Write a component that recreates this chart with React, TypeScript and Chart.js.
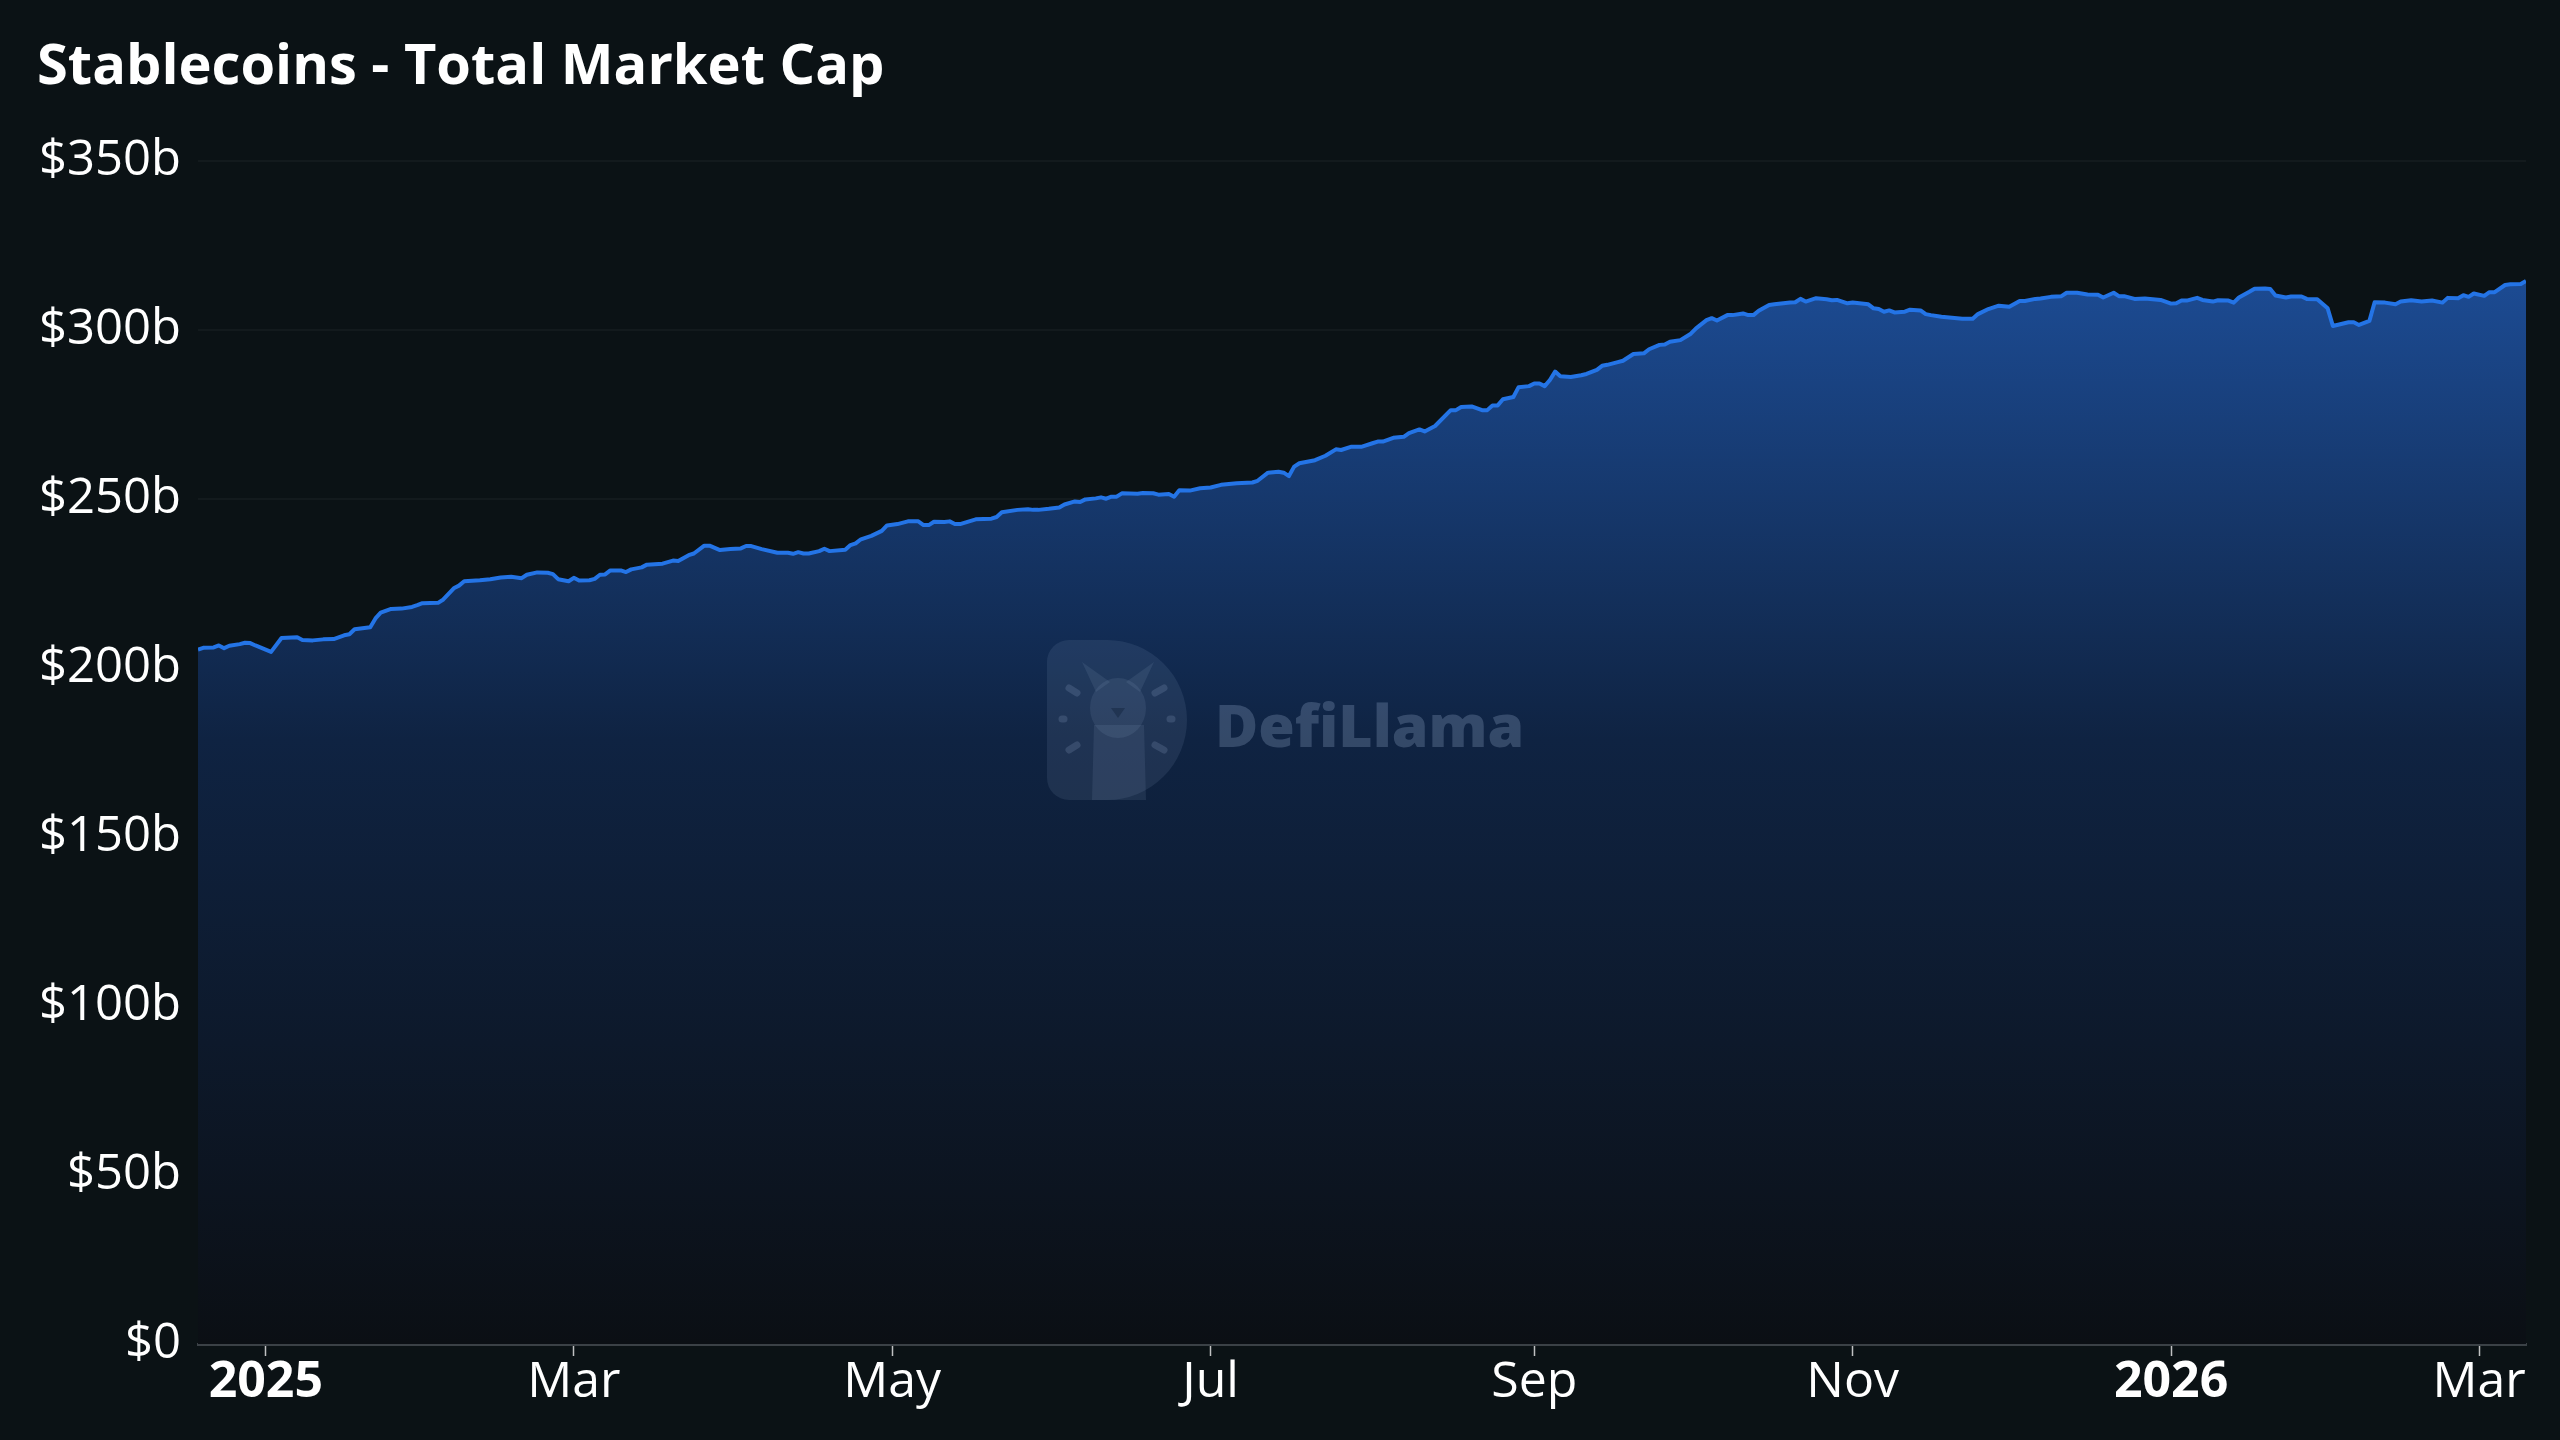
import React, { useEffect, useRef } from 'react';
import { Chart, registerables } from 'chart.js';

Chart.register(...registerables);

const TITLE = 'Stablecoins - Total Market Cap';

const dates: string[] = [
  '2024-12-19','2024-12-20','2024-12-22','2024-12-23','2024-12-24','2024-12-25','2024-12-27','2024-12-28','2024-12-29','2024-12-30',
  '2025-01-02','2025-01-04','2025-01-07','2025-01-08','2025-01-10','2025-01-12','2025-01-14','2025-01-16','2025-01-17','2025-01-18',
  '2025-01-21','2025-01-22','2025-01-23','2025-01-25','2025-01-27','2025-01-29','2025-01-30','2025-01-31',
  '2025-02-03','2025-02-04','2025-02-06','2025-02-07','2025-02-08','2025-02-11','2025-02-13','2025-02-15','2025-02-17','2025-02-19',
  '2025-02-20','2025-02-22','2025-02-24','2025-02-25','2025-02-26','2025-02-28',
  '2025-03-01','2025-03-02','2025-03-04','2025-03-05','2025-03-06','2025-03-07','2025-03-08','2025-03-10','2025-03-11','2025-03-12',
  '2025-03-14','2025-03-15','2025-03-18','2025-03-20','2025-03-21','2025-03-23','2025-03-24','2025-03-26','2025-03-27','2025-03-29','2025-03-31',
  '2025-04-02','2025-04-03','2025-04-04','2025-04-06','2025-04-09','2025-04-11','2025-04-12','2025-04-13','2025-04-14','2025-04-15',
  '2025-04-17','2025-04-18','2025-04-19','2025-04-22','2025-04-23','2025-04-24','2025-04-25','2025-04-27','2025-04-29','2025-04-30',
  '2025-05-02','2025-05-04','2025-05-06','2025-05-07','2025-05-08','2025-05-09','2025-05-11','2025-05-12','2025-05-13','2025-05-14',
  '2025-05-17','2025-05-20','2025-05-21','2025-05-22','2025-05-25','2025-05-27','2025-05-28','2025-05-29','2025-05-31',
  '2025-06-02','2025-06-03','2025-06-05','2025-06-06','2025-06-07','2025-06-09','2025-06-10','2025-06-11','2025-06-12','2025-06-13',
  '2025-06-14','2025-06-17','2025-06-18','2025-06-20','2025-06-21','2025-06-23','2025-06-24','2025-06-25','2025-06-27','2025-06-29',
  '2025-07-01','2025-07-03','2025-07-06','2025-07-09','2025-07-10','2025-07-12','2025-07-14','2025-07-15','2025-07-16','2025-07-17',
  '2025-07-18','2025-07-21','2025-07-23','2025-07-25','2025-07-26','2025-07-28','2025-07-30',
  '2025-08-01','2025-08-02','2025-08-03','2025-08-05','2025-08-07','2025-08-08','2025-08-10','2025-08-11','2025-08-13','2025-08-16',
  '2025-08-17','2025-08-18','2025-08-20','2025-08-22','2025-08-23','2025-08-24','2025-08-25','2025-08-26','2025-08-28','2025-08-29','2025-08-31',
  '2025-09-01','2025-09-02','2025-09-03','2025-09-04','2025-09-05','2025-09-06','2025-09-08','2025-09-10','2025-09-11','2025-09-13',
  '2025-09-14','2025-09-15','2025-09-17','2025-09-18','2025-09-20','2025-09-22','2025-09-23','2025-09-25','2025-09-26','2025-09-27','2025-09-29',
  '2025-10-01','2025-10-02','2025-10-04','2025-10-05','2025-10-06','2025-10-08','2025-10-09','2025-10-11','2025-10-12','2025-10-13',
  '2025-10-14','2025-10-16','2025-10-17','2025-10-20','2025-10-21','2025-10-22','2025-10-23','2025-10-25','2025-10-27','2025-10-28',
  '2025-10-29','2025-10-31',
  '2025-11-01','2025-11-04','2025-11-05','2025-11-06','2025-11-07','2025-11-08','2025-11-09','2025-11-11','2025-11-12','2025-11-14',
  '2025-11-15','2025-11-16','2025-11-18','2025-11-20','2025-11-22','2025-11-24','2025-11-25','2025-11-27','2025-11-29',
  '2025-12-01','2025-12-03','2025-12-04','2025-12-06','2025-12-07','2025-12-09','2025-12-11','2025-12-12','2025-12-14','2025-12-16',
  '2025-12-18','2025-12-19','2025-12-21','2025-12-22','2025-12-23','2025-12-25','2025-12-27','2025-12-28','2025-12-30',
  '2026-01-01','2026-01-02','2026-01-03','2026-01-04','2026-01-06','2026-01-07','2026-01-09','2026-01-10','2026-01-12','2026-01-13',
  '2026-01-14','2026-01-16','2026-01-17','2026-01-19','2026-01-20','2026-01-21','2026-01-23','2026-01-24','2026-01-26','2026-01-27',
  '2026-01-29','2026-01-31',
  '2026-02-01','2026-02-04','2026-02-05','2026-02-06','2026-02-08','2026-02-09','2026-02-11','2026-02-13','2026-02-14','2026-02-16',
  '2026-02-18','2026-02-20','2026-02-22','2026-02-23','2026-02-25','2026-02-26','2026-02-27','2026-02-28',
  '2026-03-02','2026-03-03','2026-03-04','2026-03-06','2026-03-07','2026-03-09','2026-03-10',
];

// Total stablecoin market cap, billions of USD
const values: number[] = [
  205.4,205.9,206.0,206.6,205.8,206.5,207.0,207.4,207.3,206.6,
  204.7,208.8,209.0,208.2,208.1,208.4,208.5,209.6,209.9,211.4,
  212.0,214.6,216.3,217.4,217.5,218.0,218.5,219.1,
  219.2,220.2,223.5,224.3,225.6,225.9,226.2,226.7,226.9,226.5,
  227.5,228.2,228.1,227.7,226.2,225.6,
  226.6,225.8,225.9,226.3,227.5,227.6,228.8,228.8,228.3,229.1,
  229.7,230.5,230.8,231.7,231.6,233.3,233.8,236.1,236.1,234.8,235.1,
  235.3,236.0,236.0,235.1,234.0,234.0,233.7,234.2,233.8,233.8,
  234.5,235.2,234.5,234.9,236.3,236.8,238.0,239.0,240.5,242.1,
  242.5,243.3,243.3,242.2,242.2,243.2,243.1,243.3,242.5,242.5,
  243.9,244.1,244.6,246.0,246.7,246.9,246.7,246.7,247.0,
  247.4,248.3,249.2,249.0,249.8,250.1,250.4,250.0,250.6,250.6,
  251.6,251.5,251.7,251.6,251.2,251.4,250.6,252.5,252.4,253.1,
  253.3,254.1,254.6,254.8,255.3,257.7,258.0,257.7,256.7,259.5,
  260.5,261.4,262.7,264.6,264.4,265.4,265.4,
  266.4,266.9,266.9,268.0,268.3,269.4,270.5,269.9,271.5,276.2,
  276.2,277.1,277.3,276.2,276.2,277.6,277.6,279.4,280.1,283.0,283.3,
  284.1,284.1,283.3,285.1,287.6,286.2,286.0,286.5,286.9,288.1,
  289.3,289.6,290.4,290.8,292.8,293.0,294.2,295.5,295.6,296.4,296.9,
  298.8,300.4,302.8,303.4,302.7,304.3,304.3,304.8,304.3,304.3,
  305.6,307.3,307.5,308.0,308.1,309.1,308.3,309.3,309.0,308.7,
  308.8,307.8,
  308.0,307.5,306.3,306.1,305.3,305.7,305.1,305.3,305.9,305.7,
  304.6,304.3,303.8,303.5,303.2,303.2,304.6,306.1,307.1,
  306.8,308.5,308.5,309.1,309.2,309.7,309.9,310.9,310.9,310.4,
  310.3,309.5,310.9,309.9,309.9,309.1,309.2,309.1,308.8,
  307.7,307.8,308.6,308.6,309.4,308.8,308.3,308.7,308.6,308.0,
  309.5,311.2,312.1,312.2,312.0,310.1,309.5,309.8,309.8,309.1,
  309.0,306.3,
  301.1,302.2,302.2,301.4,302.6,308.1,308.0,307.5,308.3,308.7,
  308.3,308.6,308.0,309.4,309.3,310.2,309.7,310.7,
  310.0,311.1,311.1,313.2,313.4,313.5,314.4,
];

const xTickDates: string[] = ['2025-01-01','2025-03-01','2025-05-01','2025-07-01','2025-09-01','2025-11-01','2026-01-01','2026-03-01'];
const xTickLabels: string[] = ['2025','Mar','May','Jul','Sep','Nov','2026','Mar'];

const yTickValues: number[] = [0, 50, 100, 150, 200, 250, 300, 350];
const yTickLabels: string[] = ['$0', '$50b', '$100b', '$150b', '$200b', '$250b', '$300b', '$350b'];

const FONT = '"Open Sans", "Noto Sans", "DejaVu Sans", sans-serif';
const BG = '#0b1215';
const LINE = '#2474e6';

const EPOCH = Date.parse('2025-01-01');
const dayOf = (d: string) => Math.round((Date.parse(d) - EPOCH) / 86400000);

const xTickDays = xTickDates.map(dayOf);
const points = dates.map((d, i) => ({ x: dayOf(d), y: values[i] }));

const watermarkPlugin = {
  id: 'defillamaWatermark',
  afterDatasetsDraw(chart: any) {
    const ctx: CanvasRenderingContext2D = chart.ctx;
    const cx = chart.width / 2;
    const cy = chart.height / 2;
    ctx.save();
    // "D" badge
    const l = cx - 233;
    const t = cy - 80;
    const arcX = cx - 173;
    const r = 22;
    ctx.beginPath();
    ctx.moveTo(l + r, t);
    ctx.lineTo(arcX, t);
    ctx.arc(arcX, cy, 80, -Math.PI / 2, Math.PI / 2);
    ctx.lineTo(l + r, cy + 80);
    ctx.arcTo(l, cy + 80, l, cy + 80 - r, r);
    ctx.lineTo(l, t + r);
    ctx.arcTo(l, t, l + r, t, r);
    ctx.closePath();
    ctx.fillStyle = 'rgba(150,172,205,0.12)';
    ctx.fill();

    // llama silhouette
    const lx = cx - 162;
    ctx.fillStyle = 'rgba(150,172,205,0.12)';
    ctx.beginPath();
    ctx.moveTo(lx - 26, cy + 80);
    ctx.lineTo(lx - 24, cy + 5);
    ctx.lineTo(lx + 26, cy + 5);
    ctx.lineTo(lx + 28, cy + 80);
    ctx.closePath();
    ctx.fill();
    ctx.beginPath();
    ctx.ellipse(lx, cy - 12, 28, 30, 0, 0, Math.PI * 2);
    ctx.fill();
    ctx.beginPath();
    ctx.moveTo(lx - 22, cy - 28);
    ctx.lineTo(lx - 36, cy - 58);
    ctx.lineTo(lx - 8, cy - 38);
    ctx.closePath();
    ctx.fill();
    ctx.beginPath();
    ctx.moveTo(lx + 22, cy - 28);
    ctx.lineTo(lx + 36, cy - 58);
    ctx.lineTo(lx + 8, cy - 38);
    ctx.closePath();
    ctx.fill();
    // face mark
    ctx.fillStyle = 'rgba(10,25,50,0.35)';
    ctx.beginPath();
    ctx.moveTo(lx - 7, cy - 12);
    ctx.lineTo(lx + 7, cy - 12);
    ctx.lineTo(lx, cy - 2);
    ctx.closePath();
    ctx.fill();

    // clock dashes
    ctx.strokeStyle = 'rgba(150,172,205,0.2)';
    ctx.lineWidth = 7;
    ctx.lineCap = 'round';
    const dash = (x1: number, y1: number, x2: number, y2: number) => {
      ctx.beginPath();
      ctx.moveTo(x1, y1);
      ctx.lineTo(x2, y2);
      ctx.stroke();
    };
    dash(cx - 211, cy - 32, cx - 203, cy - 27);
    dash(cx - 218, cy - 1, cx - 216, cy - 1);
    dash(cx - 211, cy + 30, cx - 203, cy + 25);
    dash(cx - 125, cy - 27, cx - 116, cy - 32);
    dash(cx - 110, cy - 1, cx - 108, cy - 1);
    dash(cx - 125, cy + 25, cx - 116, cy + 30);

    // wordmark
    ctx.fillStyle = 'rgba(150,172,205,0.28)';
    ctx.font = `800 59px ${FONT}`;
    ctx.textAlign = 'left';
    ctx.textBaseline = 'alphabetic';
    ctx.fillText('DefiLlama', cx - 65, cy + 27);
    ctx.restore();
  },
};

export default function App() {
  const ref = useRef<HTMLCanvasElement | null>(null);

  useEffect(() => {
    document.body.style.margin = '0';
    document.body.style.background = BG;
    const canvas = ref.current;
    if (!canvas) return;

    const chart = new Chart(canvas, {
      type: 'line',
      data: {
        datasets: [
          {
            label: 'Total Market Cap',
            data: points,
            borderColor: LINE,
            borderWidth: 4,
            borderJoinStyle: 'round',
            pointRadius: 0,
            pointHoverRadius: 0,
            tension: 0,
            fill: 'origin',
            backgroundColor: (c: any) => {
              const ch = c.chart;
              const area = ch.chartArea;
              if (!area) return 'rgba(28,76,150,0.6)';
              const top = ch.scales.y.getPixelForValue(325);
              const g = ch.ctx.createLinearGradient(0, top, 0, area.bottom);
              g.addColorStop(0, 'rgb(29,78,153)');
              g.addColorStop(0.45, 'rgb(15,35,66)');
              g.addColorStop(1, 'rgb(11,15,20)');
              return g;
            },
          },
        ],
      },
      options: {
        responsive: false,
        devicePixelRatio: 1,
        animation: false,
        parsing: false as any,
        normalized: true,
        layout: { padding: { left: 37, right: 34, top: 0, bottom: 0 } },
        plugins: {
          legend: { display: false },
          tooltip: { enabled: false },
          title: {
            display: true,
            text: TITLE,
            align: 'start',
            color: '#ffffff',
            font: { family: FONT, size: 56, weight: 'bold' },
            padding: { top: 34, bottom: 59.4 },
          },
        },
        scales: {
          x: {
            type: 'linear',
            min: dayOf(dates[0]),
            max: dayOf(dates[dates.length - 1]),
            afterBuildTicks: (s: any) => {
              s.ticks = xTickDays.map((v) => ({ value: v }));
            },
            afterFit: (s: any) => {
              s.height = 96;
            },
            ticks: {
              autoSkip: false,
              maxRotation: 0,
              minRotation: 0,
              color: '#ffffff',
              padding: -3,
              callback: (v: any) => {
                const i = xTickDays.indexOf(Number(v));
                return i >= 0 ? xTickLabels[i] : '';
              },
              font: (c: any) => {
                const v = c.tick ? Number(c.tick.value) : NaN;
                const i = xTickDays.indexOf(v);
                const lbl = i >= 0 ? xTickLabels[i] : '';
                return { family: FONT, size: 50, weight: /^\d{4}$/.test(lbl) ? 'bold' : 'normal' };
              },
            },
            grid: {
              drawOnChartArea: false,
              drawTicks: true,
              tickLength: 12,
              tickColor: 'rgba(225,225,225,0.85)',
              tickWidth: 1.5,
            },
            border: { display: true, color: '#3b4146', width: 3 },
          },
          y: {
            min: 0,
            max: 350,
            afterBuildTicks: (s: any) => {
              s.ticks = yTickValues.map((v) => ({ value: v }));
            },
            afterFit: (s: any) => {
              s.width = 161;
            },
            ticks: {
              color: '#ffffff',
              padding: 17,
              font: { family: FONT, size: 49 },
              callback: (v: any) => {
                const i = yTickValues.indexOf(Number(v));
                return i >= 0 ? yTickLabels[i] : '';
              },
            },
            grid: {
              color: 'rgba(255,255,255,0.035)',
              lineWidth: 2,
              drawTicks: false,
            },
            border: { display: false },
          },
        },
      },
      plugins: [watermarkPlugin],
    } as any);

    return () => chart.destroy();
  }, []);

  return (
    <div style={{ position: 'fixed', left: 0, top: 0, width: 2560, height: 1440, background: BG }}>
      <canvas ref={ref} width={2560} height={1440} style={{ display: 'block', width: 2560, height: 1440 }} />
    </div>
  );
}
